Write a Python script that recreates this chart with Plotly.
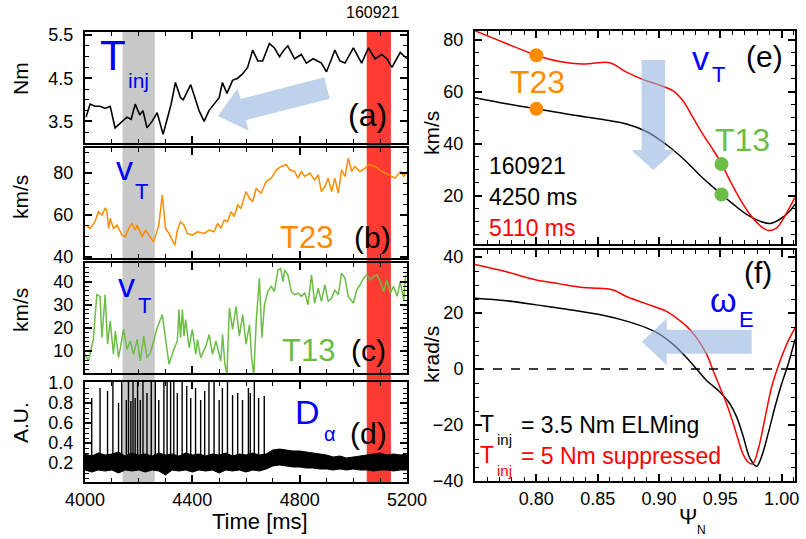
import plotly.graph_objects as go

W, H = 806, 539
FONT = "Liberation Sans, Arial, Helvetica, sans-serif"
BLUE = "#0000ff"
ORANGE = "#ff8c00"
GREEN = "#6cbd45"
RED = "#ff0000"
BANDRED = "#ff3b33"
BANDGRAY = "#c8c8c8"

# ---------------- data: panel (a) injected torque ----------------
t_a = [4004, 4019, 4037, 4056, 4075, 4094, 4112, 4131, 4156, 4172,
       4187, 4204, 4216, 4231, 4250, 4269, 4281, 4291, 4306, 4321,
       4337, 4356, 4366, 4381, 4394, 4412, 4425, 4444, 4462, 4481,
       4500, 4512, 4529, 4550, 4569, 4587, 4606, 4625, 4644, 4662,
       4687, 4706, 4725, 4741, 4756, 4781, 4806, 4825, 4850, 4881,
       4900, 4919, 4931, 4950, 4969, 5000, 5031, 5056, 5081, 5106,
       5125, 5144, 5175, 5200]
tinj = [3.60, 3.90, 3.85, 3.85, 3.80, 3.85, 3.35, 3.45, 3.60, 3.55,
        3.90, 3.65, 3.75, 3.35, 3.50, 3.70, 3.45, 3.20, 3.55, 3.90,
        4.40, 4.05, 4.00, 4.20, 4.35, 4.00, 3.75, 3.50, 3.75, 3.90,
        4.05, 4.40, 4.15, 4.45, 4.50, 4.60, 4.75, 5.15, 4.90, 4.90,
        5.30, 5.20, 5.00, 5.15, 5.25, 4.95, 5.05, 4.85, 4.95, 4.85,
        4.65, 4.95, 5.15, 4.90, 4.85, 5.20, 4.85, 5.20, 4.95, 5.05,
        4.95, 4.75, 5.10, 4.95]

# ---------------- panel (b) v_T at T23 ----------------
t_b = [4004, 4019, 4037, 4050, 4063, 4075, 4081, 4088, 4094, 4106,
       4119, 4138, 4150, 4163, 4175, 4188, 4194, 4213, 4225, 4238,
       4256, 4275, 4288, 4300, 4313, 4325, 4335, 4344, 4356, 4369,
       4381, 4400, 4419, 4444, 4463, 4481, 4494, 4506, 4519, 4531,
       4544, 4556, 4569, 4581, 4600, 4613, 4625, 4638, 4656, 4675,
       4694, 4713, 4731, 4750, 4763, 4781, 4794, 4806, 4819, 4838,
       4856, 4869, 4881, 4894, 4906, 4919, 4931, 4944, 4956, 4969,
       4981, 4994, 5006, 5025, 5044, 5056, 5081, 5106, 5131, 5156,
       5175, 5188, 5200]
v_t23 = [55.2, 53.6, 56.8, 61.6, 60.0, 63.2, 62.4, 53.6, 58.4, 53.6,
         55.2, 50.4, 49.6, 53.6, 56.0, 52.8, 55.2, 49.6, 52.8, 50.4,
         47.2, 55.2, 69.6, 53.6, 51.2, 48.0, 45.6, 52.8, 56.8, 55.2,
         51.2, 50.4, 52.0, 51.2, 52.8, 52.0, 56.0, 53.6, 57.6, 56.8,
         61.6, 59.2, 64.8, 63.2, 71.2, 68.0, 66.4, 72.8, 70.4, 76.0,
         77.6, 81.6, 83.2, 84.0, 81.6, 80.8, 77.6, 80.8, 78.4, 80.0,
         76.8, 79.2, 71.2, 73.6, 77.6, 71.2, 77.6, 70.4, 81.6, 78.4,
         87.2, 80.8, 83.2, 80.8, 82.4, 84.0, 83.2, 80.8, 79.2, 77.6,
         80.8, 78.4, 80.8]

# ---------------- panel (c) v_T at T13 ----------------
t_c = [4000, 4013, 4031, 4044, 4056, 4063, 4075, 4084, 4094, 4106,
       4113, 4125, 4144, 4156, 4169, 4181, 4194, 4206, 4219, 4231,
       4244, 4269, 4288, 4300, 4313, 4331, 4344, 4350, 4356, 4363,
       4369, 4375, 4388, 4400, 4413, 4419, 4431, 4450, 4463, 4475,
       4488, 4494, 4506, 4513, 4521, 4529, 4538, 4550, 4563, 4575,
       4588, 4600, 4613, 4621, 4629, 4638, 4650, 4659, 4669, 4681,
       4694, 4706, 4719, 4729, 4738, 4744, 4756, 4769, 4781, 4794,
       4806, 4819, 4831, 4844, 4856, 4869, 4881, 4894, 4906, 4919,
       4931, 4944, 4956, 4969, 4981, 5000, 5013, 5025, 5038, 5050,
       5063, 5075, 5088, 5100, 5113, 5125, 5138, 5150, 5163, 5175,
       5188, 5194, 5200]
v_t13 = [8.6, 5.7, 15.0, 34.3, 33.6, 15.7, 34.3, 12.9, 22.9, 8.6,
         18.6, 7.1, 19.3, 10.7, 14.3, 8.6, 15.0, 5.7, 16.4, 7.1,
         9.3, 20.0, 25.7, 15.7, 4.3, 10.7, 14.3, 27.9, 15.7, 27.9,
         16.4, 23.6, 11.4, 19.3, 8.6, 15.0, 7.1, 12.1, 17.1, 8.6,
         14.3, 11.4, 5.7, 17.1, 4.3, 0.0, 28.6, 19.3, 29.3, 16.4,
         25.7, 12.9, 21.4, 7.1, -0.7, 22.9, 41.4, 15.7, 30.0, 35.7,
         37.9, 35.7, 45.0, 45.7, 40.0, 45.0, 42.9, 35.7, 34.3, 35.0,
         33.6, 35.0, 30.0, 42.9, 30.7, 37.1, 31.4, 38.6, 31.4, 32.9,
         36.4, 34.3, 43.6, 41.4, 33.6, 30.7, 36.4, 38.6, 41.4, 42.9,
         40.7, 42.1, 42.9, 40.0, 35.7, 40.7, 35.0, 37.9, 33.6, 40.0,
         32.1, 42.1, 42.9]

# ---------------- panel (d) D-alpha ----------------
t_band = [4000, 4025, 4050, 4075, 4100, 4125, 4150, 4175, 4200, 4225,
          4250, 4275, 4300, 4325, 4350, 4375, 4400, 4425, 4450, 4475,
          4500, 4525, 4550, 4575, 4600, 4625, 4650, 4675, 4700, 4725,
          4750, 4775, 4800, 4825, 4850, 4875, 4900, 4925, 4950, 4975,
          5000, 5025, 5050, 5075, 5100, 5125, 5150, 5175, 5200]
da_upper = [0.29, 0.27, 0.30, 0.28, 0.29, 0.31, 0.27, 0.30, 0.28, 0.29,
            0.27, 0.30, 0.28, 0.29, 0.27, 0.30, 0.28, 0.29, 0.27, 0.29,
            0.28, 0.30, 0.27, 0.29, 0.28, 0.30, 0.28, 0.29, 0.33, 0.34,
            0.33, 0.32, 0.32, 0.31, 0.30, 0.29, 0.28, 0.26, 0.27, 0.25,
            0.26, 0.27, 0.28, 0.29, 0.30, 0.28, 0.29, 0.28, 0.29]
da_lower = [0.13, 0.11, 0.13, 0.12, 0.13, 0.10, 0.13, 0.12, 0.13, 0.11,
            0.13, 0.12, 0.08, 0.13, 0.12, 0.13, 0.11, 0.13, 0.12, 0.13,
            0.10, 0.13, 0.12, 0.13, 0.11, 0.13, 0.12, 0.14, 0.17, 0.18,
            0.17, 0.16, 0.16, 0.15, 0.15, 0.14, 0.14, 0.13, 0.14, 0.13,
            0.14, 0.13, 0.13, 0.12, 0.13, 0.13, 0.12, 0.13, 0.13]
elm_t = [4025, 4056, 4084, 4104, 4125, 4137, 4154, 4162, 4171, 4179,
         4187, 4196, 4206, 4216, 4231, 4247, 4262, 4275, 4294, 4306,
         4319, 4331, 4344, 4362, 4379, 4394, 4412, 4431, 4446, 4462,
         4481, 4500, 4512, 4531, 4550, 4569, 4587, 4609, 4616, 4631,
         4647, 4668]
elm_peak = [0.85, 0.95, 0.92, 1.05, 0.80, 1.05, 0.83, 1.05, 0.82, 1.05,
            0.85, 1.05, 0.83, 1.05, 0.90, 1.05, 1.05, 0.83, 1.05, 1.05,
            1.05, 1.05, 0.90, 1.05, 0.97, 0.85, 0.95, 0.83, 0.92, 1.05,
            1.05, 0.83, 0.95, 1.05, 0.88, 0.90, 0.83, 0.95, 0.90, 1.05,
            0.85, 0.87]
elm_base = 0.2

# ---------------- panel (e) v_T profiles ----------------
psi_e_red = [0.750, 0.7755, 0.800, 0.819, 0.8367, 0.8463, 0.8599, 0.8735, 0.8857, 0.898,
             0.9116, 0.9197, 0.9279, 0.9361, 0.9442, 0.951, 0.9578, 0.966, 0.9741, 0.9823,
             0.9891, 0.9959, 1.0027, 1.0109]
v_e_red = [83.4, 78.5, 74.0, 71.6, 70.6, 70.9, 71.1, 67.5, 64.9, 62.9,
           60.3, 56.4, 49.9, 43.4, 37.6, 32.4, 25.9, 18.8, 12.9, 8.6,
           6.7, 7.7, 12.3, 19.4]
psi_e_blk = [0.750, 0.7755, 0.800, 0.8272, 0.8544, 0.8735, 0.8898, 0.9007, 0.9116, 0.9224,
             0.9333, 0.9442, 0.951, 0.9605, 0.9714, 0.9823, 0.9905, 0.9986, 1.0068, 1.0109]
v_e_blk = [57.7, 55.4, 53.4, 51.2, 49.3, 47.6, 44.7, 41.5, 37.6, 33.1,
           27.9, 23.3, 20.5, 16.8, 12.9, 10.3, 9.4, 11.0, 14.2, 16.8]
psi_t23 = 0.80
v_t23_pts = [74.0, 53.4]
psi_t13 = 0.951
v_t13_pts = [32.2, 20.5]

# ---------------- panel (f) omega_E profiles ----------------
psi_f_red = [0.750, 0.7755, 0.800, 0.819, 0.8381, 0.8517, 0.8626, 0.8735, 0.8844, 0.8952,
             0.9061, 0.9143, 0.9224, 0.9306, 0.9388, 0.9442, 0.9497, 0.9551, 0.9605, 0.9646,
             0.9687, 0.9728, 0.9764, 0.9810, 0.9864, 0.9918, 0.9973, 1.0041, 1.0109]
w_f_red = [37.3, 34.7, 31.8, 30.4, 29.1, 28.8, 28.2, 25.9, 24.1, 22.4,
           20.6, 18.2, 15.3, 11.2, 5.3, -0.6, -6.5, -12.4, -19.4, -25.3,
           -30.6, -33.3, -33.9, -28.5, -17.6, -6.5, 1.2, 8.8, 14.7]
psi_f_blk = [0.750, 0.7755, 0.800, 0.8272, 0.8544, 0.8735, 0.8898, 0.9007, 0.9116, 0.9224,
             0.9306, 0.9388, 0.9497, 0.9578, 0.9633, 0.9687, 0.9741, 0.9796, 0.9837, 0.9891,
             0.9946, 1.0000, 1.0054, 1.0109]
w_f_blk = [25.3, 24.4, 22.9, 21.2, 19.2, 17.1, 14.7, 12.4, 8.8, 4.1,
           0.0, -4.1, -8.2, -12.4, -17.1, -24.1, -31.8, -34.7, -31.2, -22.9,
           -13.5, -5.3, 1.8, 10.6]

psi_ticks = [0.80, 0.85, 0.90, 0.95, 1.00]

# ---------------- figure ----------------
def PX(x):
    return x / W


def PY(y):
    return 1 - y / H


fig = go.Figure()

# (a)
fig.add_trace(go.Scatter(x=t_a, y=tinj, mode="lines", line=dict(color="black", width=1.6),
                         xaxis="x", yaxis="y", showlegend=False))
# (b)
fig.add_trace(go.Scatter(x=t_b, y=v_t23, mode="lines", line=dict(color=ORANGE, width=1.5),
                         xaxis="x2", yaxis="y2", showlegend=False))
# (c)
fig.add_trace(go.Scatter(x=t_c, y=v_t13, mode="lines", line=dict(color=GREEN, width=1.5),
                         xaxis="x3", yaxis="y3", showlegend=False))
# (d) baseline noise band
fig.add_trace(go.Scatter(x=t_band, y=da_lower, mode="lines", line=dict(color="black", width=1),
                         xaxis="x4", yaxis="y4", showlegend=False))
fig.add_trace(go.Scatter(x=t_band, y=da_upper, mode="lines", line=dict(color="black", width=1),
                         fill="tonexty", fillcolor="black", xaxis="x4", yaxis="y4", showlegend=False))
# (d) ELM spikes
sx, sy = [], []
for tt, pk in zip(elm_t, elm_peak):
    sx += [tt, tt, None]
    sy += [elm_base, pk, None]
fig.add_trace(go.Scatter(x=sx, y=sy, mode="lines", line=dict(color="black", width=1.4),
                         xaxis="x4", yaxis="y4", showlegend=False))

# (e)
fig.add_trace(go.Scatter(x=psi_e_blk, y=v_e_blk, mode="lines", line=dict(color="black", width=1.5, shape="spline"),
                         xaxis="x5", yaxis="y5", showlegend=False))
fig.add_trace(go.Scatter(x=psi_e_red, y=v_e_red, mode="lines", line=dict(color=RED, width=1.5, shape="spline"),
                         xaxis="x5", yaxis="y5", showlegend=False))
fig.add_trace(go.Scatter(x=[psi_t23] * len(v_t23_pts), y=v_t23_pts, mode="markers",
                         marker=dict(color=ORANGE, size=14), xaxis="x5", yaxis="y5", showlegend=False))
fig.add_trace(go.Scatter(x=[psi_t13] * len(v_t13_pts), y=v_t13_pts, mode="markers",
                         marker=dict(color=GREEN, size=14), xaxis="x5", yaxis="y5", showlegend=False))

# (f)
fig.add_trace(go.Scatter(x=psi_f_blk, y=w_f_blk, mode="lines", line=dict(color="black", width=1.5, shape="spline"),
                         xaxis="x6", yaxis="y6", showlegend=False))
fig.add_trace(go.Scatter(x=psi_f_red, y=w_f_red, mode="lines", line=dict(color=RED, width=1.5, shape="spline"),
                         xaxis="x6", yaxis="y6", showlegend=False))

# ---------------- axes ----------------
XL = [85 / W, 407 / W]
XR = [475 / W, 795 / W]
dom = {
    "a": [PY(143), PY(32)],
    "b": [PY(258), PY(148)],
    "c": [PY(373), PY(263)],
    "d": [PY(482), PY(382)],
    "e": [PY(244), PY(31)],
    "f": [PY(481), PY(250)],
}

tickfont = dict(family=FONT, size=18, color="black")


def ax(**kw):
    base = dict(showline=True, linecolor="black", linewidth=2, mirror="allticks",
                ticks="inside", ticklen=7, tickwidth=1.5, tickcolor="black",
                showgrid=False, zeroline=False, tickfont=tickfont,
                ticklabelstandoff=6, automargin=False)
    base.update(kw)
    return base


def minor(d):
    return dict(ticks="inside", ticklen=4, tickwidth=1, tickcolor="black", dtick=d, tick0=0, showgrid=False)


time_range = [4000, 5200]
psi_range = [0.75, 1.0109]
fig.update_layout(
    xaxis=ax(domain=XL, range=time_range, anchor="y", dtick=400, tick0=4000, minor=minor(100), showticklabels=False),
    yaxis=ax(domain=dom["a"], range=[3.0, 5.57], anchor="x", dtick=1, tick0=3.5, minor=minor(0.25), tickformat=".1f"),
    xaxis2=ax(domain=XL, range=time_range, anchor="y2", dtick=400, tick0=4000, minor=minor(100), showticklabels=False),
    yaxis2=ax(domain=dom["b"], range=[39.5, 92], anchor="x2", dtick=20, tick0=40, minor=minor(5)),
    xaxis3=ax(domain=XL, range=time_range, anchor="y3", dtick=400, tick0=4000, minor=minor(100), showticklabels=False),
    yaxis3=ax(domain=dom["c"], range=[0.5, 48], anchor="x3", dtick=10, tick0=10, minor=minor(2)),
    xaxis4=ax(domain=XL, range=time_range, anchor="y4", dtick=400, tick0=4000, minor=minor(100), ticklabelstandoff=0),
    yaxis4=ax(domain=dom["d"], range=[0.01, 1.01], anchor="x4", dtick=0.2, tick0=0.2, minor=minor(0.05), tickformat=".1f"),
    xaxis5=ax(domain=XR, range=psi_range, anchor="y5", tickmode="array", tickvals=psi_ticks,
              minor=minor(0.01), showticklabels=False),
    yaxis5=ax(domain=dom["e"], range=[1.5, 83.3], anchor="x5", dtick=20, tick0=20, minor=minor(5)),
    xaxis6=ax(domain=XR, range=psi_range, anchor="y6", tickmode="array", tickvals=psi_ticks,
              minor=minor(0.01), tickformat=".2f", ticklabelstandoff=0),
    yaxis6=ax(domain=dom["f"], range=[-40, 42.5], anchor="x6", dtick=20, tick0=0, minor=minor(5)),
)

# ---------------- shapes ----------------
shapes = []
band_y = [PY(482), PY(32)]
shapes.append(dict(type="rect", xref="x", yref="paper", x0=4140, x1=4260, y0=band_y[0], y1=band_y[1],
                   fillcolor=BANDGRAY, line=dict(width=0), layer="below"))
shapes.append(dict(type="rect", xref="x", yref="paper", x0=5050, x1=5140, y0=band_y[0], y1=band_y[1],
                   fillcolor=BANDRED, line=dict(width=0), layer="below"))
shapes.append(dict(type="line", xref="x6 domain", yref="y6", x0=0, x1=1, y0=0, y1=0,
                   line=dict(color="black", width=1.5, dash="dash")))


def arrow_path(tail, tip, shw, hhw, hlen):
    import math
    dx, dy = tip[0] - tail[0], tip[1] - tail[1]
    L = math.hypot(dx, dy)
    ux, uy = dx / L, dy / L
    nx, ny = -uy, ux
    bx, by = tip[0] - hlen * ux, tip[1] - hlen * uy
    pts = [
        (tail[0] + shw * nx, tail[1] + shw * ny),
        (bx + shw * nx, by + shw * ny),
        (bx + hhw * nx, by + hhw * ny),
        tip,
        (bx - hhw * nx, by - hhw * ny),
        (bx - shw * nx, by - shw * ny),
        (tail[0] - shw * nx, tail[1] - shw * ny),
    ]
    s = "M " + " L ".join(f"{PX(p[0]):.5f},{PY(p[1]):.5f}" for p in pts) + " Z"
    return s


ARROW = "rgb(147,180,222)"
for tail, tip, shw, hhw, hlen in [
    ((327, 88), (218, 116), 11, 22, 26),
    ((653.3, 60), (653.3, 170), 11.7, 22, 20),
    ((751.7, 341.7), (641.7, 341.7), 12, 23.3, 25),
]:
    shapes.append(dict(type="path", xref="paper", yref="paper", path=arrow_path(tail, tip, shw, hhw, hlen),
                       fillcolor=ARROW, opacity=0.6, line=dict(width=0), layer="above"))
fig.update_layout(shapes=shapes)

# ---------------- text ----------------
ann = []


def T(text, x, y, size, color="black", xanchor="center", angle=0):
    ann.append(dict(text=text, x=PX(x), y=PY(y), xref="paper", yref="paper", showarrow=False,
                    xanchor=xanchor, yanchor="middle", textangle=angle,
                    font=dict(family=FONT, size=size, color=color)))


T("160921", 372, 13, 16)
# (a)
T("T", 113, 55, 42, BLUE)
T("inj", 138, 80, 21, BLUE)
T("(a)", 367, 115, 32)
# (b)
T("v", 124, 168, 34, BLUE)
T("T", 141, 191, 22, BLUE)
T("T23", 306, 237, 31, ORANGE)
T("(b)", 372, 237, 30)
# (c)
T("v", 127, 285, 34, BLUE)
T("T", 144, 305, 22, BLUE)
T("T13", 308, 350, 31, GREEN)
T("(c)", 368, 350, 30)
# (d)
T("D", 307, 412, 34, BLUE)
T("α", 330, 434, 20, BLUE)
T("(d)", 368, 433, 30)
# left axis titles
T("Nm", 20, 79, 21, angle=-90)
T("km/s", 20, 197, 21, angle=-90)
T("km/s", 20, 310, 21, angle=-90)
T("A.U.", 20, 423, 21, angle=-90)
T("Time [ms]", 260, 521, 22)
# (e)
T("v", 700, 58, 34, BLUE)
T("T", 718, 75, 22, BLUE)
T("(e)", 764, 57, 30)
T("T23", 537, 82, 32, ORANGE)
T("T13", 742, 140, 32, GREEN)
T("160921", 487, 166, 23, xanchor="left")
T("4250 ms", 487, 197, 23, xanchor="left")
T("5110 ms", 487, 228, 23, RED, xanchor="left")
T("km/s", 432, 133, 21, angle=-90)
# (f)
T("(f)", 758, 273, 30)
T("ω", 723, 300, 34, BLUE)
T("E", 746, 319, 22, BLUE)
T("T", 487, 424, 23)
T("inj", 504, 439, 15)
T("= 3.5 Nm ELMing", 519, 425, 23, xanchor="left")
T("T", 487, 455, 23, RED)
T("inj", 504, 470, 15, RED)
T("= 5 Nm suppressed", 519, 456, 23, RED, xanchor="left")
T("krad/s", 431, 355, 21, angle=-90)
T("Ψ", 688, 516, 22)
T("N", 701, 530, 12)

fig.update_layout(annotations=ann, width=W, height=H, margin=dict(l=0, r=0, t=0, b=0),
                  plot_bgcolor="white", paper_bgcolor="white", showlegend=False)

fig.write_html("out.html")
